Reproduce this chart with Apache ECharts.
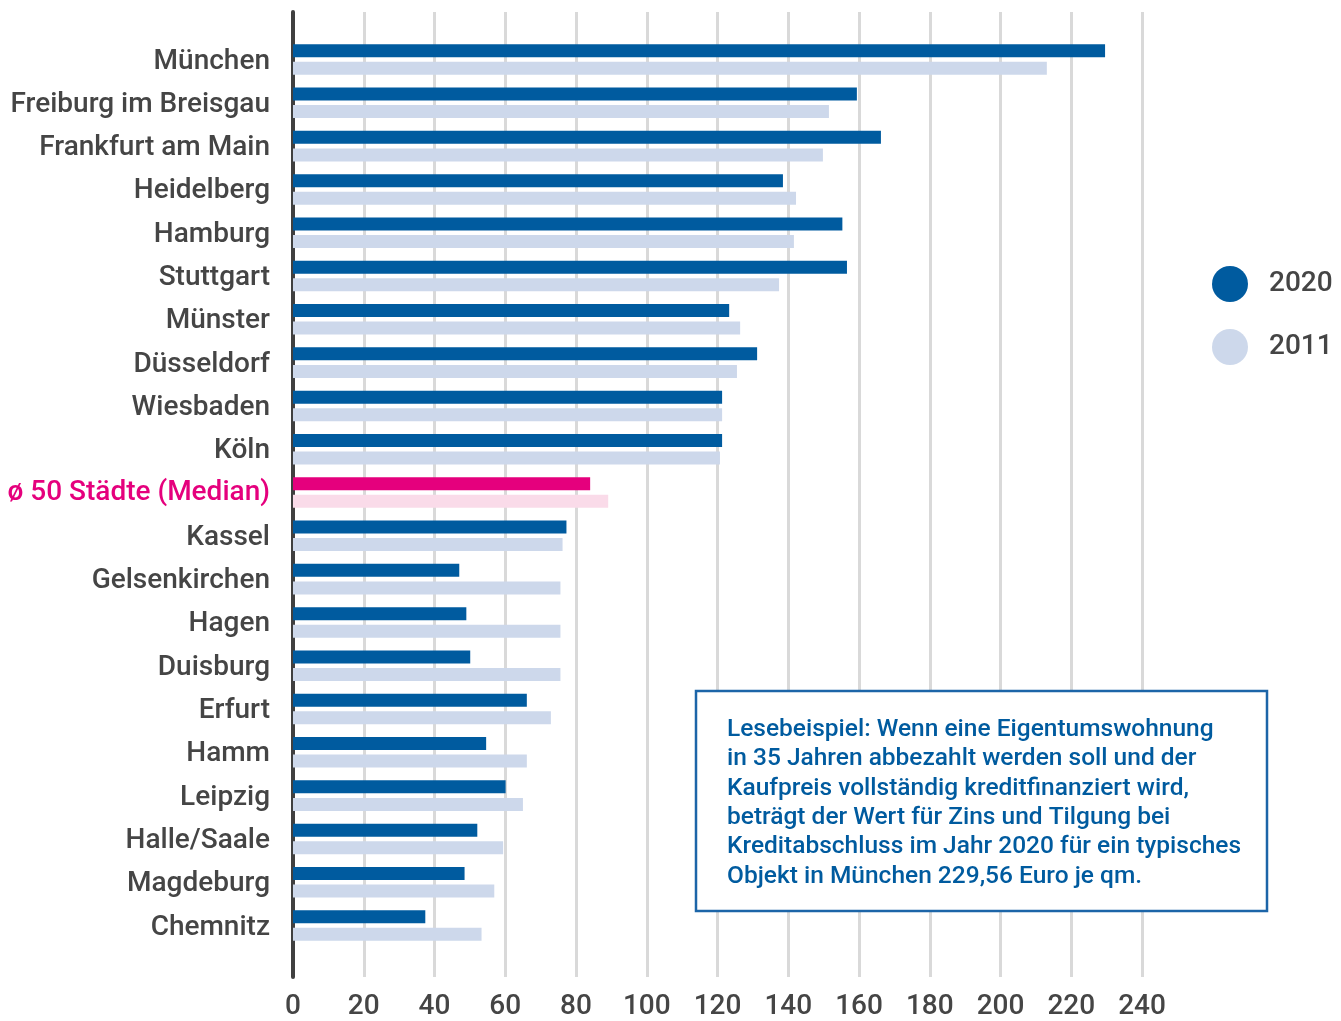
<!DOCTYPE html>
<html>
<head>
<meta charset="utf-8">
<script src="https://cdn.jsdelivr.net/npm/echarts@6/dist/echarts.min.js"></script>
<style>
html,body{margin:0;padding:0;background:#fff;}
#chart{width:1341px;height:1021px;}
</style>
</head>
<body>
<div id="chart"></div>
<script>
const categories = ["München","Freiburg im Breisgau","Frankfurt am Main","Heidelberg","Hamburg","Stuttgart","Münster","Düsseldorf","Wiesbaden","Köln","ø 50 Städte (Median)","Kassel","Gelsenkirchen","Hagen","Duisburg","Erfurt","Hamm","Leipzig","Halle/Saale","Magdeburg","Chemnitz"];
const values2020 = [229.56,159.4,166.2,138.5,155.3,156.6,123.3,131.2,121.3,121.3,84.0,77.3,47.0,49.0,50.1,66.1,54.6,60.1,52.1,48.5,37.4];
const values2011 = [213.1,151.5,149.8,142.2,141.6,137.4,126.4,125.5,121.3,120.7,89.1,76.2,75.6,75.6,75.6,72.9,66.1,65.0,59.4,56.9,53.3];
const seriesNames = ["2020","2011"];
const xTicks = [0,20,40,60,80,100,120,140,160,180,200,220,240];
const highlightCategory = "ø 50 Städte (Median)";
const noteLines = [
  "Lesebeispiel: Wenn eine Eigentumswohnung",
  "in 35 Jahren abbezahlt werden soll und der",
  "Kaufpreis vollständig kreditfinanziert wird,",
  "beträgt der Wert für Zins und Tilgung bei",
  "Kreditabschluss im Jahr 2020 für ein typisches",
  "Objekt in München 229,56 Euro je qm."
];

const DARK = '#005b9f', LIGHT = '#cdd8eb', PINK = '#e5007d', LPINK = '#fadbe9';
const FONT = 'Roboto, "Noto Sans", sans-serif';

function mk(vals, hl){
  return vals.map((v,i)=> categories[i]===highlightCategory ? {value:v,itemStyle:{color:hl}} : v);
}

const chart = echarts.init(document.getElementById('chart'), null, {renderer:'canvas'});
const L = 293, R = 1341-1142;
chart.setOption({
  animation:false,
  backgroundColor:'#fff',
  textStyle:{fontFamily:FONT},
  legend:{
    orient:'vertical', left:1207, top:261, itemGap:27,
    icon:'circle', itemWidth:36, itemHeight:36,
    textStyle:{fontSize:28, fontWeight:500, color:'#454545', fontFamily:FONT, padding:[0,0,0,16]},
    data:seriesNames
  },
  grid:[
    {left:L, right:R, top:37.85, height:909.3},
    {left:L, right:R, top:12, bottom:31}
  ],
  xAxis:[
    {gridIndex:0, type:'value', min:0, max:240, interval:20, show:false},
    {gridIndex:1, type:'value', min:0, max:240, interval:20,
     axisLine:{show:false}, axisTick:{show:false},
     splitLine:{show:true, lineStyle:{color:'#d9d9d9', width:3}},
     axisLabel:{fontSize:28, fontWeight:500, color:'#454545', margin:16, fontFamily:FONT,
       formatter:(v)=> xTicks.includes(v) ? String(v) : ''}}
  ],
  yAxis:[
    {gridIndex:0, type:'category', inverse:true,
     data:categories.map(c=> c===highlightCategory ? {value:c, textStyle:{color:PINK}} : c),
     axisLine:{show:false}, axisTick:{show:false}, splitLine:{show:false},
     axisLabel:{fontSize:28, fontWeight:500, color:'#454545', margin:23, fontFamily:FONT,
       verticalAlign:'top', lineHeight:4}},
    {gridIndex:1, type:'value', min:0, max:1, show:true,
     axisLine:{show:true, lineStyle:{color:'#404040', width:4}},
     axisTick:{show:false}, axisLabel:{show:false}, splitLine:{show:false}}
  ],
  series:[
    {name:seriesNames[0], type:'bar', xAxisIndex:0, yAxisIndex:0, barWidth:13, barGap:'35%',
     itemStyle:{color:DARK}, data:mk(values2020, PINK), z:3},
    {name:seriesNames[1], type:'bar', xAxisIndex:0, yAxisIndex:0, barWidth:13, barGap:'35%',
     itemStyle:{color:LIGHT}, data:mk(values2011, LPINK), z:3}
  ],
  graphic:[
    {type:'rect', z:10, shape:{x:696, y:691, width:571, height:220},
     style:{fill:'#fff', stroke:'#1c65a8', lineWidth:2.5}},
    {type:'text', z:11, x:727, y:715,
     style:{text:noteLines.join('\n'), fill:'#005b9f', font:'500 24.5px Roboto, "Noto Sans", sans-serif',
       lineHeight:29.4, textVerticalAlign:'top', verticalAlign:'top'}}
  ]
});
</script>
</body>
</html>
